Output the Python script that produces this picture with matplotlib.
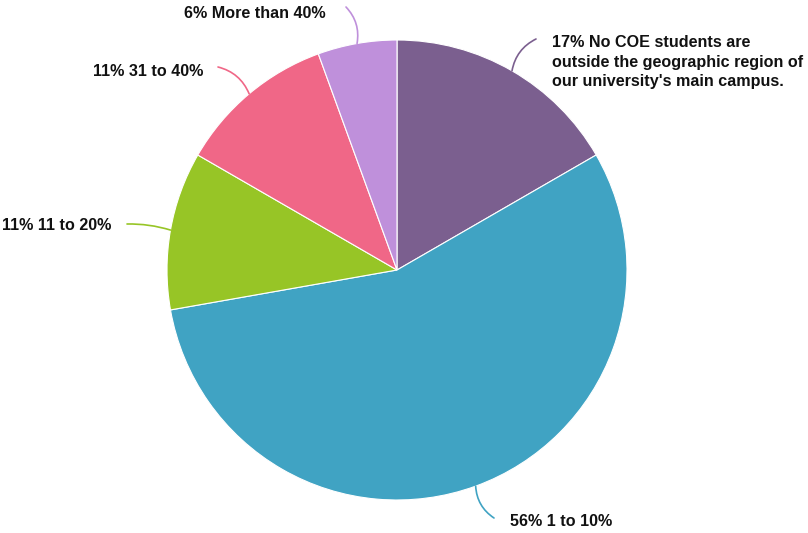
import numpy as np
import matplotlib
matplotlib.use("Agg")
import matplotlib.pyplot as plt

labels = ["No COE students are\noutside the geographic region of\nour university's main campus.",
          "1 to 10%", "11 to 20%", "31 to 40%", "More than 40%"]
counts = [3, 10, 2, 2, 1]
colors = ["#7b5f8f", "#40a3c3", "#97c526", "#f06787", "#bf90db"]

W, H = 808, 533
fig = plt.figure(figsize=(W / 100, H / 100), dpi=100)
ax = fig.add_axes([0, 0, 1, 1])
ax.set_xlim(0, W)
ax.set_ylim(H, 0)
ax.set_aspect("equal")
ax.axis("off")

cx, cy, R = 397, 270, 230
wedges, _ = ax.pie(counts, colors=colors, startangle=-90, counterclock=True,
                   center=(cx, cy), radius=R, frame=True,
                   wedgeprops=dict(edgecolor="white", linewidth=0.8))
ax.set_xlim(0, W)
ax.set_ylim(H, 0)
ax.axis("off")

total = sum(counts)
pcts = [round(100 * c / total) for c in counts]

text_pos = [((552, 35), "left", "top", 0.25),
            ((510, 522), "left", "center", -0.25),
            ((111, 226), "right", "center", -0.08),
            ((203, 71), "right", "center", -0.25),
            ((326, 13), "right", "center", -0.25)]
line_end = [(536, 39), (494, 518), (127, 224), (218, 67), (346, 7)]

for w, lab, p, (tp, ha, va, rad), le, col in zip(wedges, labels, pcts, text_pos, line_end, colors):
    ang = np.deg2rad((w.theta1 + w.theta2) / 2)
    ex = cx + R * np.cos(ang)
    ey = cy + R * np.sin(ang)
    ax.annotate("", xy=(ex, ey), xytext=le,
                arrowprops=dict(arrowstyle="-", color=col, lw=1.2,
                                connectionstyle=f"arc3,rad={rad}",
                                shrinkA=0, shrinkB=0))
    ax.text(tp[0], tp[1], f"{p}% {lab}", ha=ha, va=va, fontsize=11.6,
            fontweight="bold", family="Liberation Sans", color="#111111",
            linespacing=1.38)

fig.savefig("out.png", dpi=100)
